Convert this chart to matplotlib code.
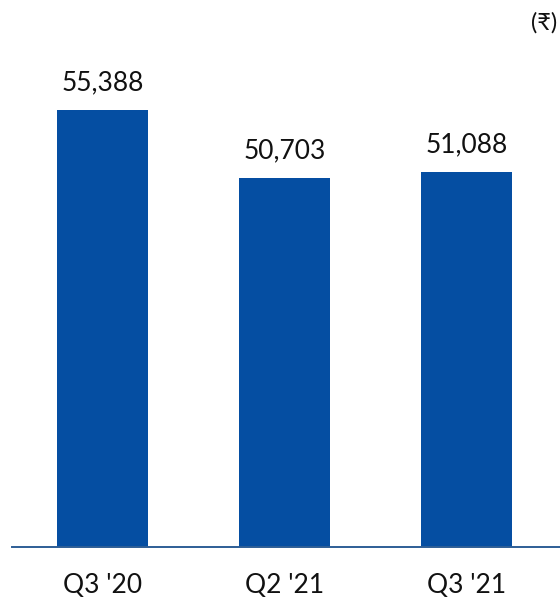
import matplotlib
matplotlib.use("Agg")
import matplotlib.pyplot as plt
from matplotlib.transforms import blended_transform_factory

quarters = ["Q3 '20", "Q2 '21", "Q3 '21"]
values = [55388, 50703, 51088]

bar_color = "#054EA2"
line_color = "#2E5E96"
text_color = "#111111"
fonts = ["Lato", "Noto Sans", "DejaVu Sans"]

W, H = 560, 597
fig = plt.figure(figsize=(W / 100, H / 100), dpi=100)
# axes spans from the baseline up to the top of the figure
base_px = 547
ax = fig.add_axes([12 / W, 1 - base_px / H, (560 - 12) / W, base_px / H])

x = list(range(len(quarters)))
bars = ax.bar(x, values, width=0.5, color=bar_color, zorder=2)
ax.set_xlim(-0.497, 2.514)
ax.set_ylim(25280, 25280 + base_px * 68.9)

for rect, v in zip(bars, values):
    ax.annotate(f"{v:,}", (rect.get_x() + rect.get_width() / 2, v),
                xytext=(0, 14.4), textcoords="offset points",
                ha="center", va="baseline", fontsize=19, family=fonts,
                color=text_color)

for spine in ["top", "right", "left"]:
    ax.spines[spine].set_visible(False)
ax.spines["bottom"].set_color(line_color)
ax.spines["bottom"].set_linewidth(1.4)
ax.set_yticks([])
ax.set_xticks([])

# category labels below the baseline
trans = blended_transform_factory(ax.transData, fig.transFigure)
for xi, q in zip(x, quarters):
    fig.text(xi, 1 - 593 / H, q, transform=trans, ha="center", va="baseline",
             fontsize=19, family=fonts, color=text_color)

fig.text(557 / W, 1 - 23 / H, "(₹)", ha="right", va="center",
         fontsize=17, family=fonts, color=text_color)

fig.savefig("out.png", dpi=100)
